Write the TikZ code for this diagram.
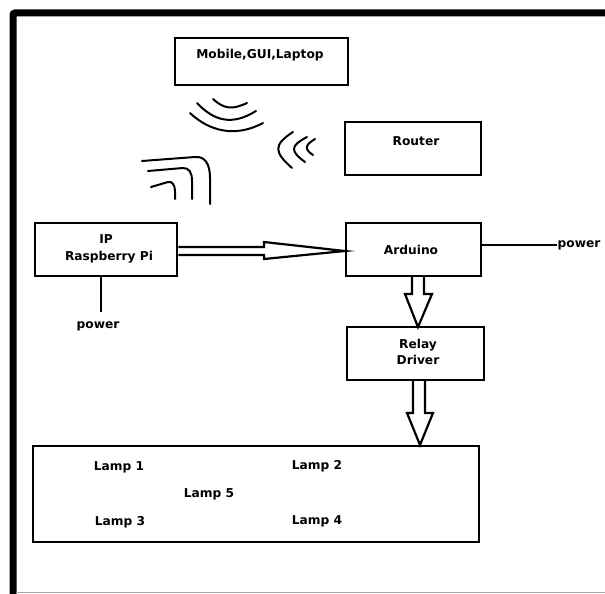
\documentclass[tikz,border=0pt]{standalone}
\usepackage{fontspec}
\setmainfont{DejaVu Sans}
\begin{document}
\begin{tikzpicture}[x=1pt,y=-1pt,
  blk/.style={draw=black,line width=2.5pt,inner sep=0pt},
  lbl/.style={font=\fontsize{12.2}{14}\selectfont\bfseries,inner sep=0pt},
  wave/.style={line width=2pt,line cap=round},
  fatarrow/.style={line width=2.2pt,line join=miter},
  wire/.style={line width=2pt}]
\useasboundingbox (0,0) rectangle (605,594);
\fill[white] (0,0) rectangle (605,594);
% outer frame
\draw[line width=7pt,rounded corners=2pt] (13,600) -- (13,13) -- (612,13);
\draw[gray!70,line width=1pt] (16,592) -- (605,592);

% boxes
\node[blk,minimum width=173pt,minimum height=47pt] (mob) at (261.5,61.5) {};
\node[blk,minimum width=136pt,minimum height=53pt] (rtr) at (413,148.5) {};
\node[blk,minimum width=142pt,minimum height=53pt] (rpi) at (106,249.5) {};
\node[blk,minimum width=135pt,minimum height=53pt] (ard) at (413.5,249.5) {};
\node[blk,minimum width=137pt,minimum height=53pt] (rel) at (415.5,353.5) {};
\node[draw=black,line width=2pt,minimum width=446pt,minimum height=96pt] (lmp) at (256,494) {};

% labels
\node[lbl] (tmob) at (260,55) {Mobile,GUI,Laptop};
\node[lbl] (trtr) at (416,141) {Router};
\node[lbl] (tip) at (106,239) {IP};
\node[lbl] (trpi) at (109,257) {Raspberry Pi};
\node[lbl] (tard) at (411,250) {Arduino};
\node[lbl] (trel1) at (418,345) {Relay};
\node[lbl] (trel2) at (418,360) {Driver};
\node[lbl] (l1) at (119,467) {Lamp 1};
\node[lbl] (l2) at (317,466) {Lamp 2};
\node[lbl] (l5) at (209,494) {Lamp 5};
\node[lbl] (l3) at (120,522) {Lamp 3};
\node[lbl] (l4) at (317,521) {Lamp 4};
\node[lbl] (pwr1) at (579,245) {power};
\node[lbl] (pwr2) at (98,326) {power};

% power wires
\draw[wire] (ard.east |- 0,245) -- (pwr1.west);
\draw[wire] (101,276) -- (101,312);

% hollow arrow rpi -> arduino
\draw[fatarrow] (rpi.east |- 0,247) -- (264,247) -- (264,242) -- (ard.west |- 0,251)
  -- (264,259) -- (264,255) -- (rpi.east |- 0,255);
% hollow arrow arduino -> relay
\draw[fatarrow] (412,276) -- (412,294) -- (405,294) -- (418,327) -- (432,294) -- (424,294) -- (424,276);
% hollow arrow relay -> lamps
\draw[fatarrow] (413,380) -- (413,413) -- (407,413) -- (420,445) -- (433,413) -- (425,413) -- (425,380);

% wireless waves below mobile
\draw[wave] (213,99) .. controls (224,109) and (232,110) .. (247,103);
\draw[wave] (197,103) .. controls (214,121) and (232,126) .. (256,111);
\draw[wave] (190,113) .. controls (209,131) and (235,138) .. (263,123);
% waves near router
\draw[wave] (293,132) .. controls (273,145) and (274,152) .. (292,168);
\draw[wave] (307,137) .. controls (290,146) and (290,151) .. (305,162);
\draw[wave] (315,139) .. controls (305,145) and (304,149) .. (313,155);
% waves above raspberry pi
\draw[wave] (142,161) -- (195,157) .. controls (205,156) and (210,164) .. (210,178) -- (210,204);
\draw[wave] (148,171) -- (183,168) .. controls (189,168) and (192,172) .. (192,181) -- (192,199);
\draw[wave] (151,187) -- (168,182) .. controls (172,181) and (175,185) .. (175,191) -- (175,199);
\end{tikzpicture}
\end{document}
